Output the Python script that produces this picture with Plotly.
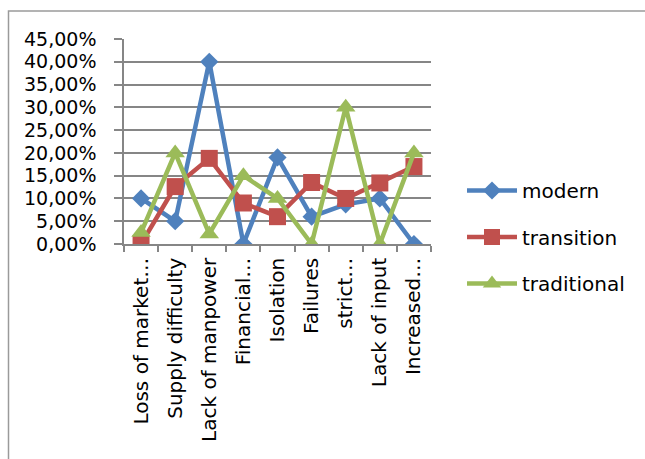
import plotly.graph_objects as go

categories = ["Loss of market…", "Supply difficulty", "Lack of manpower", "Financial…",
              "Isolation", "Failures", "strict…", "Lack of input", "Increased…"]
modern = [0.10, 0.05, 0.40, 0.00, 0.19, 0.06, 0.087, 0.10, 0.00]
transition = [0.00, 0.126, 0.188, 0.09, 0.06, 0.135, 0.10, 0.134, 0.17]
traditional = [0.025, 0.20, 0.022, 0.15, 0.10, 0.00, 0.30, 0.00, 0.20]
y_ticks = [0, 0.05, 0.10, 0.15, 0.20, 0.25, 0.30, 0.35, 0.40, 0.45]
y_tick_text = ["0,00%", "5,00%", "10,00%", "15,00%", "20,00%", "25,00%",
               "30,00%", "35,00%", "40,00%", "45,00%"]

FONT = "DejaVu Sans"
W, H = 645, 459
L, R, T, B = 124, 214, 39, 215
pw, ph = W - L - R, H - T - B

fig = go.Figure()
series = [("modern", modern, "#4F81BD", "diamond", 14),
          ("transition", transition, "#C0504D", "square", 17),
          ("traditional", traditional, "#9BBB59", "triangle-up", 17)]
for name, vals, col, sym, sz in series:
    fig.add_trace(go.Scatter(
        x=categories, y=vals, name=name, mode="lines+markers",
        line=dict(color=col, width=4.5),
        marker=dict(symbol=sym, size=sz, color=col, line=dict(width=0)),
        legendgroup=name,
    ))

def px_x(p):
    return (p - L) / pw

def px_y(p):
    return (H - B - p) / ph

fig.add_shape(type="rect", xref="paper", yref="paper",
              x0=px_x(8.5), x1=px_x(700), y0=px_y(11), y1=px_y(520),
              line=dict(color="#9a9a9a", width=1.5), fillcolor="rgba(0,0,0,0)")

fig.update_layout(
    width=W, height=H,
    margin=dict(l=L, r=R, t=T, b=B, pad=0),
    paper_bgcolor="white", plot_bgcolor="white",
    font=dict(family=FONT, size=19, color="black"),
    showlegend=True,
    legend=dict(x=px_x(462), y=px_y(171), xanchor="left", yanchor="top",
                font=dict(family=FONT, size=20, color="black"),
                traceorder="grouped", tracegroupgap=17.5,
                bgcolor="rgba(0,0,0,0)", itemwidth=50),
    xaxis=dict(type="category", tickangle=-90, showgrid=False,
               showline=True, linecolor="#868686", linewidth=1.5,
               ticks="outside", ticklen=6, tickcolor="#868686", tickwidth=1.5,
               tickson="boundaries", ticklabelstandoff=4,
               range=[-0.5, 8.5],
               tickfont=dict(family=FONT, size=20, color="black")),
    yaxis=dict(range=[0, 0.45], tickvals=y_ticks, ticktext=y_tick_text,
               showgrid=True, gridcolor="#868686", gridwidth=1.5,
               showline=True, linecolor="#868686", linewidth=1.5,
               ticks="outside", ticklen=8, tickcolor="#868686", tickwidth=1.5,
               zeroline=False, ticklabelstandoff=14,
               tickfont=dict(family=FONT, size=19, color="black")),
)

fig.write_html("out.html")
